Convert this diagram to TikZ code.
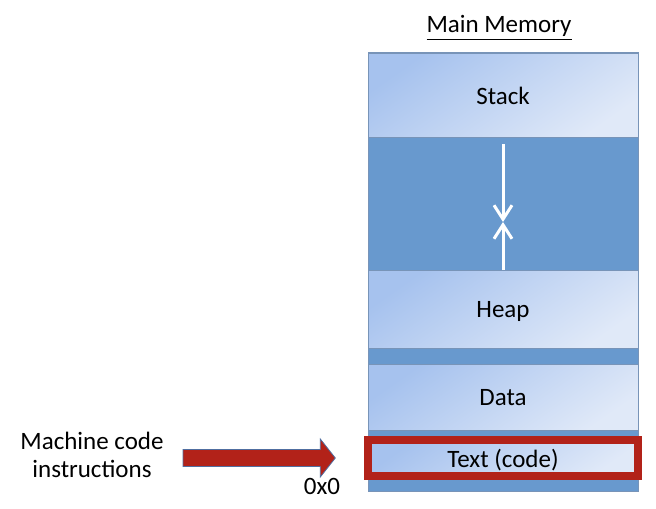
\documentclass[tikz,border=0pt]{standalone}
\usepackage{fontspec}
\setmainfont{Carlito}
\usepackage{xcolor}
\usetikzlibrary{arrows.meta, positioning}

\definecolor{memdark}{RGB}{104,153,206}
\definecolor{segtop}{RGB}{166,194,238}
\definecolor{segbot}{RGB}{224,233,248}
\definecolor{segline}{RGB}{120,148,184}
\definecolor{codered}{RGB}{178,34,25}
\definecolor{pushline}{RGB}{80,110,160}

\begin{document}
\begin{tikzpicture}[
  x=0.5pt, y=-0.5pt,
  font=\fontsize{12.5pt}{14pt}\selectfont,
  seg/.style={draw=segline, line width=0.5pt, top color=segtop, bottom color=segbot, shading angle=35, minimum width=135pt, inner sep=0pt, text depth=0pt},
  lab/.style={inner sep=1pt, text depth=0pt},
  growarrow/.style={-{Straight Barb[length=7pt, width=9pt]}, white, line width=1.5pt},
  push/.style={fill=codered, draw=pushline, line width=0.4pt, line join=miter}
]
\useasboundingbox (0,0) rectangle (656,508);
% memory column
\node[draw=segline, fill=memdark, line width=0.5pt, minimum width=135pt, minimum height=219pt, inner sep=0pt] (mem) at (503,272) {};
\node[lab, anchor=base] (title) at (499,33) {\underline{Main Memory}};

% segments, top to bottom
\node[seg, minimum height=42pt, anchor=north] (stack) at (503,53) {Stack};
\node[seg, minimum height=39pt, below=66pt of stack] (heap) {Heap};
\node[seg, minimum height=33pt, below=7.5pt of heap] (data) {Data};
\node[seg, draw=codered, line width=3.7pt, minimum height=18pt, below=2.65pt of data] (code) {Text (code)};

% stack and heap grow toward each other
\coordinate (meet) at (503,222);
\draw[growarrow] ([yshift=-3pt]stack.south) -- (meet);
\draw[growarrow] (heap.north) -- (meet);

% machine code goes to the bottom
\node[lab, align=center] (mci) at (92,455) {Machine code\\instructions};
\coordinate (tip) at ([xshift=-14.5pt]code.west);
\coordinate (tail) at (183,0 |- tip);
\draw[push] ([yshift=4.25pt]tail) -- ([xshift=-7.5pt, yshift=4.25pt]tip)
  -- ([xshift=-7.5pt, yshift=9.5pt]tip) -- (tip)
  -- ([xshift=-7.5pt, yshift=-9.5pt]tip) -- ([xshift=-7.5pt, yshift=-4.25pt]tip)
  -- ([yshift=-4.25pt]tail) -- cycle;
\node[lab] (addr) at (322,486) {0x0};
\end{tikzpicture}
\end{document}
